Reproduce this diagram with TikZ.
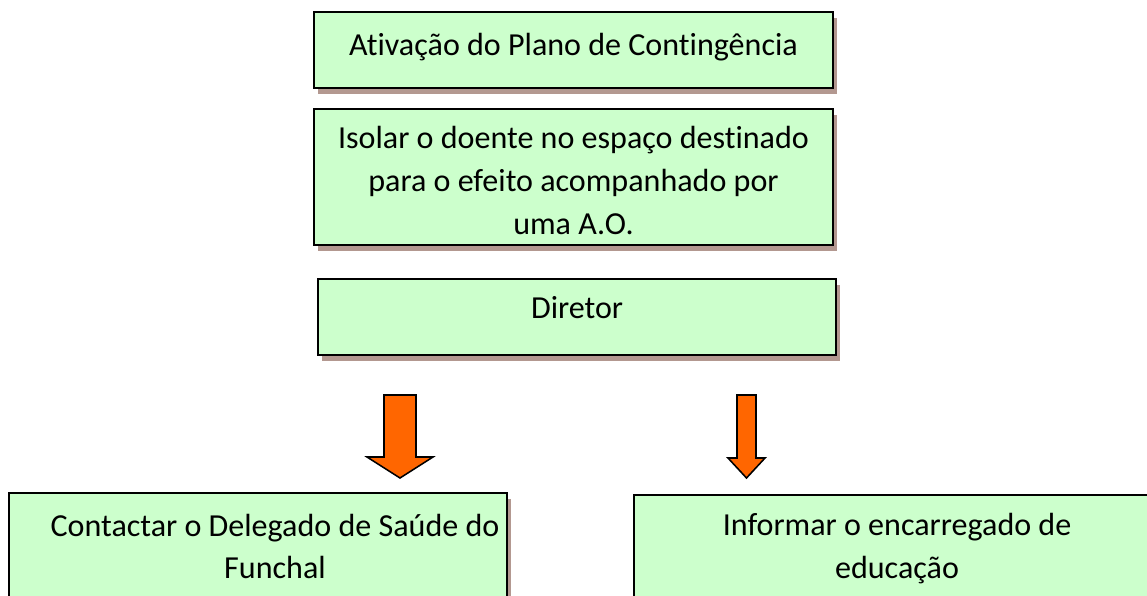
\documentclass[tikz,border=0pt]{standalone}
\usepackage{fontspec}
\setmainfont{Carlito}[Ligatures=NoCommon]
\usetikzlibrary{positioning, shadows}
\usepackage{xcolor}
\definecolor{boxgreen}{HTML}{CCFFCC}
\definecolor{shadowbrown}{HTML}{B39890}
\definecolor{arroworange}{HTML}{FF6600}

\begin{document}
\begin{tikzpicture}[x=0.025cm, y=-0.025cm,
        stepbox/.style={draw, line width=1.4pt, fill=boxgreen, align=center,
            font=\fontsize{22.8}{30.5}\selectfont, minimum width=12.975cm,
            drop shadow={shadow xshift=0.1cm, shadow yshift=-0.15cm, fill=shadowbrown, opacity=1}},
        downarrow/.style={draw, line width=1.1pt, fill=arroworange, line join=miter}
    ]
        \useasboundingbox (0,0) rectangle (1147,595);
        \clip (0,0) rectangle (1147,595);

        % Stack of steps
        \node[stepbox, text height=16pt, text depth=8.2pt, minimum height=1.9cm] (ativacao) at (573.5,50) {Ativação do Plano de Contingência};
        \node[stepbox, minimum height=3.4cm, inner ysep=1pt, text height=86.6pt, text depth=5pt, below=0.475cm of ativacao] (isolar) {Isolar o doente no espaço destinado \\ para o efeito acompanhado por \\ uma A.O.};
        \node[stepbox, text height=16pt, text depth=14.5pt, minimum height=1.9cm, minimum width=12.95cm, below=0.8cm of isolar, xshift=0.09cm] (diretor) {Diretor};

        % Two actions
        \node[stepbox, minimum height=2.675cm, minimum width=12.45cm] (delegado) at (258,546.5) {\hspace*{0.85cm}Contactar o Delegado de Saúde do \\ \hspace*{0.85cm}Funchal};
        \node[stepbox, minimum height=2.675cm, minimum width=13.15cm] (encarregado) at (897,548.5) {Informar o encarregado de \\ educação};

        % Block arrows
        \coordinate (leftarrow) at (400,395);
        \coordinate (rightarrow) at (746.5,395);
        \draw[downarrow] (leftarrow) ++(-16,0) -- ++(32,0) -- ++(0,62) -- ++(17,0) -- ++(-33,21) -- ++(-33,-21) -- ++(17,0) -- cycle;
        \draw[downarrow] (rightarrow) ++(-9.5,0) -- ++(19,0) -- ++(0,63) -- ++(9,0) -- ++(-18.5,20) -- ++(-18.5,-20) -- ++(9,0) -- cycle;

    \end{tikzpicture}
\end{document}
